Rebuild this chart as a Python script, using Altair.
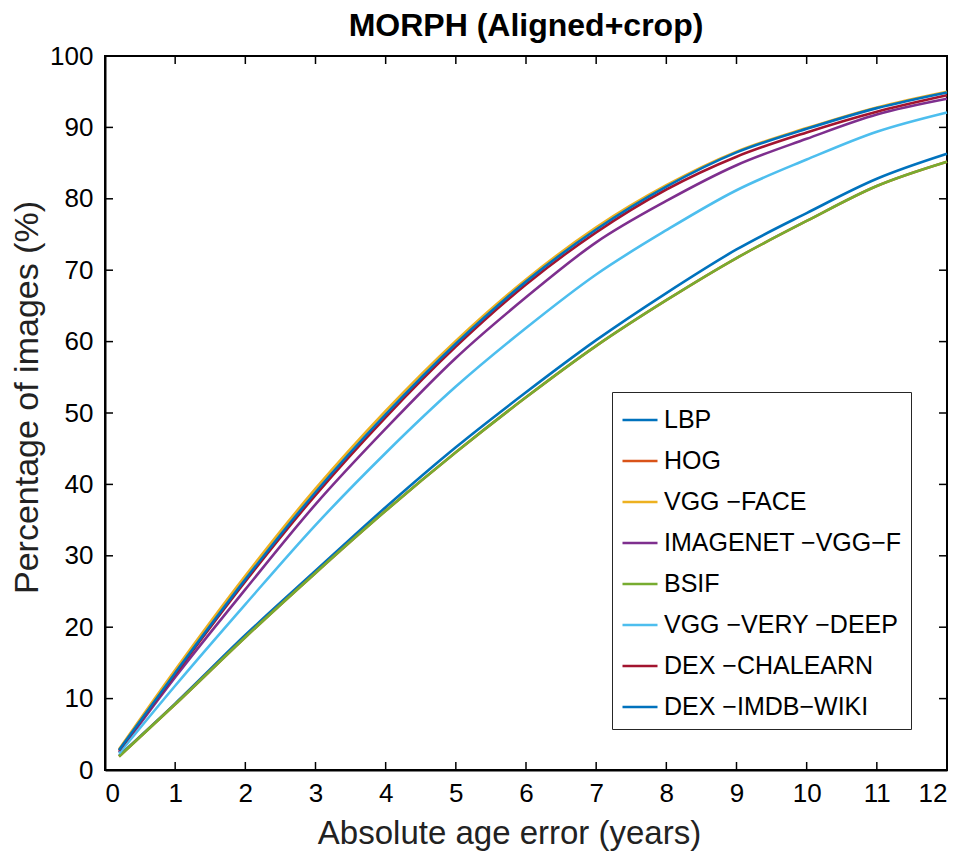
import altair as alt
import pandas as pd

x_vals = [0.2, 1, 2, 3, 4, 5, 6, 7, 8, 9, 10, 11, 12]

series_names = ["LBP", "HOG", "VGG −FACE", "IMAGENET −VGG−F", "BSIF",
                "VGG −VERY −DEEP", "DEX −CHALEARN", "DEX −IMDB−WIKI"]
series_colors = ["#0072BD", "#D95319", "#EDB120", "#7E2F8E", "#77AC30",
                 "#4DBEEE", "#A2142F", "#0072BD"]

lbp = [2.0, 9.3, 18.9, 27.9, 36.8, 45.2, 52.9, 60.2, 66.8, 72.9, 78.0, 82.8, 86.3]
hog = [1.9, 9.2, 18.6, 27.6, 36.3, 44.5, 52.2, 59.4, 65.8, 71.7, 76.9, 81.8, 85.2]
vgg_face = [2.9, 14.0, 27.2, 39.4, 50.3, 60.1, 68.7, 76.0, 81.9, 86.6, 89.9, 92.8, 95.0]
imagenet = [2.5, 13.0, 25.3, 37.2, 47.8, 57.7, 66.2, 73.9, 79.7, 84.7, 88.4, 91.8, 94.0]
bsif = [1.9, 9.2, 18.6, 27.6, 36.3, 44.5, 52.2, 59.4, 65.8, 71.7, 76.9, 81.8, 85.2]
vgg_deep = [2.3, 11.8, 23.2, 34.3, 44.4, 53.7, 61.9, 69.4, 75.6, 81.2, 85.5, 89.4, 92.1]
dex_chalearn = [2.7, 13.4, 26.4, 38.5, 49.4, 59.3, 68.0, 75.3, 81.3, 85.9, 89.3, 92.2, 94.5]
dex_imdb = [2.8, 13.6, 26.7, 38.9, 49.8, 59.7, 68.4, 75.7, 81.7, 86.5, 89.8, 92.7, 94.9]

x_ticks = list(range(0, 13))
y_ticks = list(range(0, 101, 10))

all_series = [lbp, hog, vgg_face, imagenet, bsif, vgg_deep, dex_chalearn, dex_imdb]
rows = []
for i, (name, vals) in enumerate(zip(series_names, all_series)):
    for x, y in zip(x_vals, vals):
        rows.append({"x": x, "y": y, "method": name, "k": i})
df = pd.DataFrame(rows)

W, H = 842, 714
FONT = "Liberation Sans"

xs = alt.Scale(domain=[0, 12], nice=False)
ys = alt.Scale(domain=[0, 100], nice=False)

lines = alt.Chart(df).mark_line(strokeWidth=2.6, interpolate="monotone").encode(
    x=alt.X("x:Q", scale=xs,
            axis=alt.Axis(values=x_ticks, title="Absolute age error (years)", format="d",
                          titleFontSize=33, titlePadding=11, titleX=404)),
    y=alt.Y("y:Q", scale=ys,
            axis=alt.Axis(values=y_ticks, title="Percentage of images (%)", format="d",
                          titleFontSize=34, titlePadding=5, labelPadding=12,
                          titleY=341)),
    color=alt.Color("method:N",
                    scale=alt.Scale(domain=series_names, range=series_colors),
                    sort=series_names,
                    legend=alt.Legend(title=None, orient="none", legendX=507, legendY=336,
                                      direction="vertical",
                                      symbolType="stroke", symbolSize=1225,
                                      symbolStrokeWidth=2.6,
                                      labelFontSize=25, labelFont=FONT, labelColor="black",
                                      labelLimit=400,
                                      rowPadding=9, padding=9,
                                      strokeColor="#262626", fillColor="white",
                                      labelOffset=5)),
    detail="k:N",
    order="k:Q",
)

xt = pd.DataFrame({"t": x_ticks[1:-1]})
yt = pd.DataFrame({"t": y_ticks[1:-1]})
tick_len = 8
bot = alt.Chart(xt).mark_rule(color="black", strokeWidth=1.5).encode(
    x=alt.X("t:Q", scale=xs), y=alt.value(H), y2=alt.value(H - tick_len))
top = alt.Chart(xt).mark_rule(color="black", strokeWidth=1.5).encode(
    x=alt.X("t:Q", scale=xs), y=alt.value(0), y2=alt.value(tick_len))
left = alt.Chart(yt).mark_rule(color="black", strokeWidth=1.5).encode(
    y=alt.Y("t:Q", scale=ys), x=alt.value(0), x2=alt.value(tick_len))
right = alt.Chart(yt).mark_rule(color="black", strokeWidth=1.5).encode(
    y=alt.Y("t:Q", scale=ys), x=alt.value(W), x2=alt.value(W - tick_len))

chart = alt.layer(lines, bot, top, left, right).properties(
    width=W, height=H,
    title=alt.Title("MORPH (Aligned+crop)", fontSize=32, font=FONT, fontWeight="bold",
                    color="black", offset=0, frame="group"),
    autosize=alt.AutoSizeParams(type="none"),
    padding={"left": 97, "top": 48, "right": 14, "bottom": 83},
).configure_view(
    stroke="black", strokeWidth=2
).configure_axis(
    ticks=False, grid=False, domainColor="black", domainWidth=2,
    labelFont=FONT, labelFontSize=26, labelColor="black", labelPadding=10,
    titleFont=FONT, titleFontWeight="normal", titleColor="#222222",
)

chart.save("out.html", embed_options={"renderer": "svg", "actions": False})
